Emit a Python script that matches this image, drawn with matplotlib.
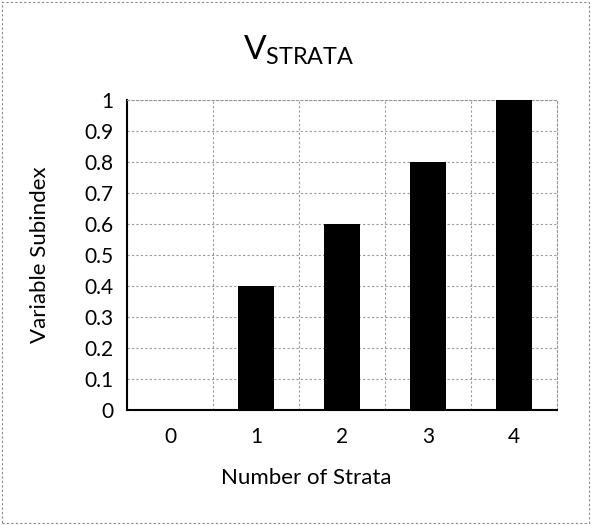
import matplotlib
matplotlib.use('Agg')
import matplotlib.pyplot as plt
from matplotlib.ticker import MultipleLocator

plt.rcParams['font.family'] = ['Lato', 'DejaVu Sans']
plt.rcParams['mathtext.fontset'] = 'custom'
plt.rcParams['mathtext.rm'] = 'Lato'

# number of strata vs variable subindex
strata = [0, 1, 2, 3, 4]
subindex = [0.0, 0.4, 0.6, 0.8, 1.0]
yticks = [0, 0.1, 0.2, 0.3, 0.4, 0.5, 0.6, 0.7, 0.8, 0.9, 1]
ytick_labels = ['0', '0.1', '0.2', '0.3', '0.4', '0.5', '0.6', '0.7', '0.8', '0.9', '1']

fig = plt.figure(figsize=(5.91, 5.25), dpi=100)
ax = fig.add_axes([127/591, 1 - 410/525, 430/591, 310/525])

ax.bar(strata, subindex, width=0.41, color='black', zorder=3)

ax.set_xlim(-0.5, 4.5)
ax.set_ylim(0, 1)
ax.set_xticks(strata)
ax.set_xticklabels([str(s) for s in strata])
ax.set_yticks(yticks)
ax.set_yticklabels(ytick_labels)
ax.tick_params(axis='both', length=0, labelsize=15, colors='black')
ax.tick_params(axis='x', pad=12)
ax.tick_params(axis='y', pad=10)

# gridlines between categories and at each tick
ax.xaxis.set_minor_locator(MultipleLocator(1, offset=0.5))
grid_style = dict(color='#999999', linestyle=(0, (2, 2)), linewidth=0.8)
ax.grid(True, axis='y', which='major', zorder=0, **grid_style)
ax.grid(True, axis='x', which='minor', zorder=0, **grid_style)
ax.tick_params(axis='x', which='minor', length=0)

for side in ['top', 'right']:
    ax.spines[side].set_color(grid_style['color'])
    ax.spines[side].set_linestyle(grid_style['linestyle'])
    ax.spines[side].set_linewidth(grid_style['linewidth'])
ax.spines['left'].set_linewidth(1.5)
ax.spines['bottom'].set_linewidth(1.5)

fig.text(0.505, 1 - 50/525, r'$\mathregular{V_{STRATA}}$', ha='center', va='center', fontsize=24)
fig.text(306/591, 1 - 478/525, 'Number of Strata', ha='center', va='center', fontsize=16)
fig.text(40/591, 1 - 255/525, 'Variable Subindex', ha='center', va='center', rotation=90, fontsize=16)

# thin outer frame
frame = plt.Rectangle((0.003, 0.003), 0.994, 0.994, transform=fig.transFigure, fill=False,
                      edgecolor='#888888', linestyle=(0, (2, 2)), linewidth=0.8)
fig.patches.append(frame)

fig.savefig('out.png', dpi=100)
